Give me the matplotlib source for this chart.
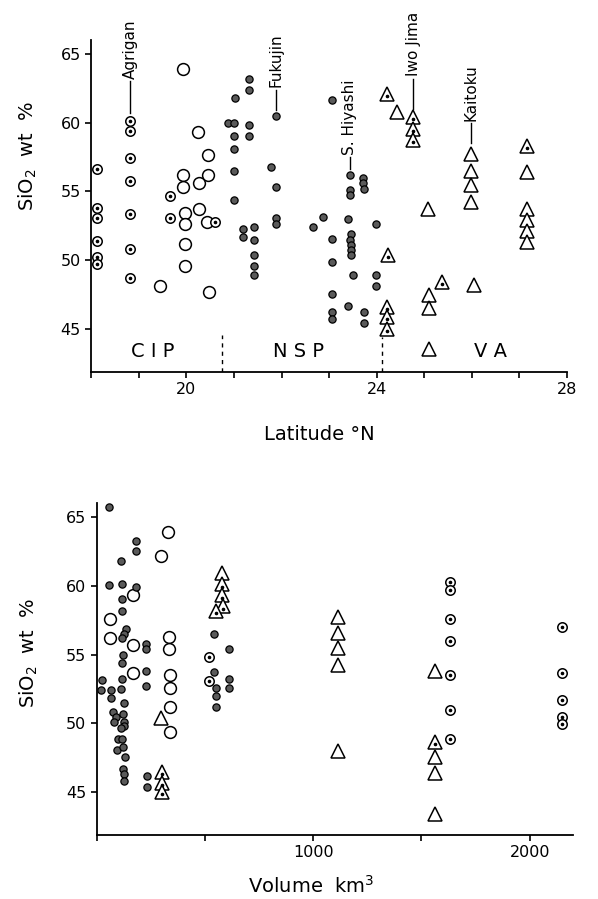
import matplotlib
matplotlib.use("Agg")
import matplotlib.pyplot as plt

# ---- top panel: SiO2 vs latitude ----
dc_lat = [18.12]*6 + [18.82]*7 + [19.66, 19.66, 20.6]
dc_sio2 = [56.6, 53.8, 53.1, 51.4, 50.2, 49.7,
           60.15, 59.4, 57.45, 55.75, 53.35, 50.85, 48.7,
           54.7, 53.1, 52.75]

oc_lat = [19.93, 19.44, 19.93, 19.93, 19.96, 19.96, 19.96, 19.96,
          20.24, 20.26, 20.26, 20.46, 20.46, 20.43, 20.48]
oc_sio2 = [63.9, 48.1, 56.2, 55.35, 53.45, 52.6, 51.2, 49.55,
           59.3, 55.6, 53.7, 57.65, 56.2, 52.75, 47.7]

fc_lat = [20.87, 21.0, 21.03, 21.0, 21.0, 21.0, 21.0,
          21.32, 21.32, 21.32, 21.32, 21.18, 21.18,
          21.42, 21.42, 21.42, 21.42, 21.42,
          21.78, 21.88, 21.88, 21.88, 21.88,
          23.05, 22.65, 22.88, 23.05, 23.05, 23.05, 23.05, 23.05,
          23.43, 23.43, 23.43, 23.39, 23.46, 23.43, 23.45, 23.45, 23.45, 23.39, 23.5,
          23.72, 23.72, 23.73, 23.73, 23.73,
          23.99, 23.99, 23.99]
fc_sio2 = [60.0, 60.0, 61.8, 59.0, 58.1, 56.5, 54.4,
           63.2, 62.4, 59.85, 59.0, 52.3, 51.7,
           52.45, 51.5, 50.35, 49.6, 48.95,
           56.8, 55.35, 60.5, 53.1, 52.6,
           61.65, 52.4, 53.15, 51.57, 49.87, 47.56, 46.22, 45.74,
           56.18, 55.09, 54.73, 53.03, 51.93, 51.45, 51.08, 50.72, 50.35, 46.7, 48.9,
           55.94, 55.58, 55.21, 46.22, 45.42,
           52.66, 48.9, 48.1]

ot_lat = [24.43, 25.08, 25.1, 25.1, 25.1, 25.98, 25.98, 25.98, 25.98, 26.05,
          27.16, 27.16, 27.16, 27.16, 27.16]
ot_sio2 = [60.8, 53.75, 47.5, 46.5, 43.55, 57.7, 56.5, 55.45, 54.2, 48.2,
           56.4, 53.75, 52.9, 52.1, 51.3]

dt_lat = [24.21, 24.77, 24.77, 24.77, 24.24, 25.38, 24.22, 24.22, 24.22, 27.16]
dt_sio2 = [62.1, 60.44, 59.54, 58.74, 50.35, 48.45, 46.6, 45.85, 45.0, 58.3]

# volcano names: (lat, point, line end, label)
names = ["Agrigan", "Fukujin", "S. Hiyashi", "Iwo Jima", "Kaitoku"]
name_lat = [18.82, 21.88, 23.43, 24.77, 25.98]
name_pt = [60.7, 60.9, 56.6, 61.0, 58.5]
name_top = [63.0, 62.4, 57.5, 63.2, 60.0]

regions = ["C I P", "N S P", "V A"]
region_lat = [19.3, 22.35, 26.4]
lat_ticks = list(range(18, 29))
lat_labels = ["20" if t == 20 else "24" if t == 24 else "28" if t == 28 else "" for t in lat_ticks]

# ---- bottom panel: SiO2 vs volume ----
bfc_vol = [57, 57, 26, 22, 65, 65, 77, 88, 80, 98, 95,
           114, 115, 115, 118, 134, 126, 118, 122, 118, 115, 111, 126, 122, 126, 126, 111,
           118, 122, 131, 122, 125, 127,
           180, 180, 180, 229, 229, 226, 226, 231, 231,
           542, 542, 549, 549, 549, 611, 611, 611]
bfc_sio2 = [65.76, 60.05, 53.17, 52.44, 52.44, 51.83, 50.8, 50.45, 50.08, 48.87, 48.1,
            61.8, 60.1, 59.08, 58.2, 56.9, 56.5, 56.2, 55.0, 54.4, 53.2, 52.5, 51.5, 50.7, 50.08, 49.8, 49.7,
            48.87, 48.3, 47.58, 46.7, 46.3, 45.8,
            63.25, 62.5, 59.95, 55.8, 55.4, 53.85, 52.75, 46.2, 45.4,
            56.5, 53.75, 52.6, 52.0, 51.2, 55.4, 53.2, 52.6]

boc_vol = [62, 62, 168, 168, 169, 295, 329, 334, 334, 337, 337, 337, 337]
boc_sio2 = [57.6, 56.2, 59.3, 55.7, 53.7, 62.2, 63.9, 56.3, 55.4, 53.5, 52.6, 51.2, 49.4]

bdc_vol = [518, 518] + [1633]*7 + [2150]*5
bdc_sio2 = [54.8, 53.1, 60.3, 59.7, 57.57, 56.0, 53.5, 51.0, 48.9,
            57.0, 53.66, 51.7, 50.5, 49.96]

bot_vol = [295, 580, 1114, 1114, 1114, 1114, 1114, 1563, 1563, 1563, 1563]
bot_sio2 = [50.4, 60.9, 57.74, 56.6, 55.5, 54.26, 48.0, 53.85, 47.54, 46.4, 43.4]

bdt_vol = [300, 300, 300, 580, 580, 585, 549, 1563]
bdt_sio2 = [46.5, 45.7, 45.05, 60.1, 59.3, 58.5, 58.2, 48.63]

vol_ticks = [0, 500, 1000, 1500, 2000]
vol_labels = ["", "", "1000", "", "2000"]
sio2_ticks = [45, 50, 55, 60, 65]


def open_circles(ax, x, y, ms=8.5):
    ax.plot(x, y, 'o', ms=ms, mfc='white', mec='black', mew=1.1, ls='none', zorder=3)


def dot_circles(ax, x, y):
    ax.plot(x, y, 'o', ms=6.8, mfc='white', mec='black', mew=1.1, ls='none', zorder=4)
    ax.plot(x, y, 'o', ms=1.6, color='black', ls='none', zorder=5)


def filled_circles(ax, x, y):
    ax.plot(x, y, 'o', ms=5.2, mfc='#5a5a5a', mec='black', mew=0.9, ls='none', zorder=3)


def open_tri(ax, x, y):
    ax.plot(x, y, '^', ms=10, mfc='white', mec='black', mew=1.1, ls='none', zorder=3)


def dot_tri(ax, x, y):
    ax.plot(x, y, '^', ms=10, mfc='white', mec='black', mew=1.1, ls='none', zorder=4)
    ax.plot(x, [v - 0.15 for v in y], 'o', ms=1.6, color='black', ls='none', zorder=5)


def style(ax):
    for s in ['top', 'right']:
        ax.spines[s].set_visible(False)
    for s in ['left', 'bottom']:
        ax.spines[s].set_linewidth(1.3)
    ax.tick_params(direction='out', length=4, width=1.2, labelsize=11.5)
    ax.set_yticks(sio2_ticks)
    ax.set_ylim(41.9, 66.0)


fig = plt.figure(figsize=(5.98, 8.99), dpi=100)

ax1 = fig.add_axes([0.1527, 0.5865, 0.7955, 0.369])
style(ax1)
ax1.set_xlim(18, 28)
ax1.set_xticks(lat_ticks)
ax1.set_xticklabels(lat_labels)

open_circles(ax1, oc_lat, oc_sio2)
dot_circles(ax1, dc_lat, dc_sio2)
filled_circles(ax1, fc_lat, fc_sio2)
open_tri(ax1, ot_lat, ot_sio2)
dot_tri(ax1, dt_lat, dt_sio2)

ax1.plot([20.75, 20.75], [41.9, 44.6], '--', color='black', lw=1.0, dashes=(3, 3))
ax1.plot([24.12, 24.12], [41.9, 44.4], '--', color='black', lw=1.0, dashes=(3, 3))

for name, x, y0, y1 in zip(names, name_lat, name_pt, name_top):
    ax1.plot([x, x], [y0, y1], color='black', lw=1.0, clip_on=False)
    ax1.text(x, y1 + 0.15, name, rotation=90, ha='center', va='bottom',
             fontsize=11, clip_on=False)

for r, x in zip(regions, region_lat):
    ax1.text(x, 43.35, r, ha='center', va='center', fontsize=14)

ax1.set_ylabel("SiO$_2$  wt  %", fontsize=14)
ax1.yaxis.set_label_coords(-0.11, 0.65)
ax1.set_xlabel("Latitude °N", fontsize=14)
ax1.xaxis.set_label_coords(0.48, -0.16)

ax2 = fig.add_axes([0.1617, 0.0712, 0.7965, 0.369])
style(ax2)
ax2.set_xlim(0, 2200)
ax2.set_xticks(vol_ticks)
ax2.set_xticklabels(vol_labels)

open_circles(ax2, boc_vol, boc_sio2)
dot_circles(ax2, bdc_vol, bdc_sio2)
filled_circles(ax2, bfc_vol, bfc_sio2)
open_tri(ax2, bot_vol, bot_sio2)
dot_tri(ax2, bdt_vol, bdt_sio2)

ax2.set_ylabel("SiO$_2$  wt  %", fontsize=14)
ax2.yaxis.set_label_coords(-0.12, 0.55)
ax2.set_xlabel("Volume  km$^3$", fontsize=14)
ax2.xaxis.set_label_coords(0.45, -0.12)

fig.savefig("out.png", dpi=100)
